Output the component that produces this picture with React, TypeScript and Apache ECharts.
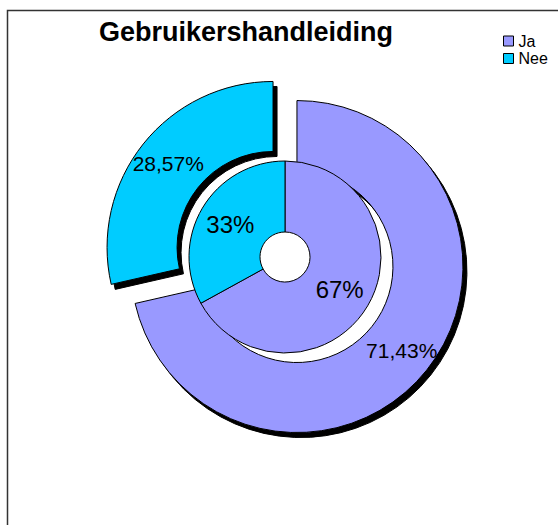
import React, { useEffect, useRef } from "react";
import * as echarts from "echarts";

const title = "Gebruikershandleiding";
const categories = ["Ja", "Nee"];
const outerValues = [71.43, 28.57];
const innerValues = [67, 33];
const colors = ["#9999FF", "#00CCFF"];

const FONT = "'Liberation Sans', Arial, sans-serif";

export default function App() {
  const ref = useRef<HTMLDivElement>(null);
  useEffect(() => {
    if (!ref.current) return;
    const chart = echarts.init(ref.current, undefined, { renderer: "svg" });
    const baseItem = { borderColor: "#000", borderWidth: 1 };
    chart.setOption({
      animation: false,
      backgroundColor: "#fff",
      title: {
        text: title,
        left: 99,
        top: 18,
        padding: 0,
        textStyle: { fontFamily: FONT, fontSize: 27, fontWeight: "bold", color: "#000" },
      },
      legend: {
        data: categories,
        orient: "vertical",
        left: 503,
        top: 33,
        padding: 0,
        itemWidth: 10,
        itemHeight: 10,
        itemGap: 1.5,
        icon: "rect",
        selectedMode: false,
        itemStyle: { borderColor: "#000", borderWidth: 1, shadowColor: "transparent", shadowBlur: 0, shadowOffsetX: 0, shadowOffsetY: 0 },
        textStyle: { fontFamily: FONT, fontSize: 16, color: "#000", lineHeight: 16 },
      },
      graphic: [
        {
          type: "rect",
          z: -10,
          shape: { x: 7.5, y: 10.5, width: 700, height: 700 },
          style: { fill: "none", stroke: "#333", lineWidth: 1.5 },
          silent: true,
        },
      ],
      series: [
        {
          type: "pie",
          name: "outer",
          z: 1,
          center: [285, 257],
          radius: [96, 166],
          startAngle: 90,
          clockwise: true,
          avoidLabelOverlap: false,
          selectedMode: "multiple",
          selectedOffset: 15.3,
          emphasis: { disabled: true },
          itemStyle: { ...baseItem, shadowColor: "#000", shadowBlur: 0, shadowOffsetX: 4, shadowOffsetY: 5 },
          label: {
            show: true,
            position: "inside",
            fontFamily: FONT,
            fontSize: 21,
            color: "#000",
            formatter: (p: any) => `${Number(p.value).toFixed(2).replace(".", ",")}%`,
          },
          labelLine: { show: false },
          data: categories.map((c, i) => ({
            name: c,
            value: outerValues[i],
            selected: true,
            itemStyle: { color: colors[i] },
          })),
        },
        {
          type: "pie",
          name: "inner",
          z: 2,
          center: [285, 257],
          radius: [25, 96],
          startAngle: 90,
          clockwise: true,
          avoidLabelOverlap: false,
          selectedMode: false,
          emphasis: { disabled: true },
          itemStyle: { ...baseItem },
          label: {
            show: true,
            position: "inside",
            fontFamily: FONT,
            fontSize: 24,
            color: "#000",
            formatter: (p: any) => `${p.value}%`,
          },
          labelLine: { show: false },
          data: categories.map((c, i) => ({
            name: c,
            value: innerValues[i],
            itemStyle: { color: colors[i] },
          })),
        },
      ],
    });
    return () => chart.dispose();
  }, []);
  return <div ref={ref} style={{ position: "absolute", left: 0, top: 0, width: 558, height: 525 }} />;
}
